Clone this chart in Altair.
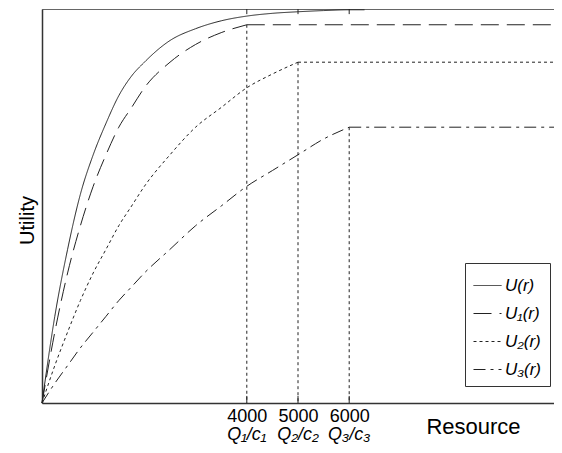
import altair as alt
import pandas as pd

# ---- data ----
series_names = ["U(r)", "U₁(r)", "U₂(r)", "U₃(r)"]

r_u = [0, 250, 500, 750, 1000, 1250, 1500, 1750, 2000, 2500, 3000, 3500, 4000, 4500, 5000, 5500, 6000, 6300]
u = [0, 0.22, 0.39, 0.53, 0.63, 0.71, 0.78, 0.83, 0.865, 0.92, 0.95, 0.97, 0.982, 0.989, 0.993, 0.996, 0.998, 0.998]

r_u1 = [0, 250, 500, 750, 1000, 1250, 1500, 1750, 2000, 2500, 3000, 3500, 4000]
u1 = [0, 0.18, 0.33, 0.45, 0.55, 0.63, 0.70, 0.75, 0.80, 0.865, 0.91, 0.94, 0.96]

r_u2 = [0, 250, 500, 750, 1000, 1250, 1500, 1750, 2000, 2500, 3000, 3500, 4000, 4500, 5000]
u2 = [0, 0.095, 0.18, 0.26, 0.33, 0.39, 0.45, 0.50, 0.55, 0.63, 0.70, 0.75, 0.80, 0.835, 0.865]

r_u3 = [0, 250, 500, 750, 1000, 1250, 1500, 1750, 2000, 2500, 3000, 3500, 4000, 4500, 5000, 5500, 6000]
u3 = [0, 0.05, 0.095, 0.14, 0.18, 0.22, 0.26, 0.295, 0.33, 0.39, 0.45, 0.50, 0.55, 0.59, 0.63, 0.67, 0.70]

plateau_series = ["U₁(r)", "U₂(r)", "U₃(r)"]
plateau_start = [4000, 5000, 6000]
plateau_level = [0.96, 0.865, 0.70]
r_max = 10000

tick_values = [4000, 5000, 6000]
q_labels = ["Q₁/c₁", "Q₂/c₂", "Q₃/c₃"]

# ---- tables ----
rows = []
for name, rs, us in zip(series_names, [r_u, r_u1, r_u2, r_u3], [u, u1, u2, u3]):
    for rv, uv in zip(rs, us):
        rows.append({"series": name, "r": rv, "u": uv})
df_curve = pd.DataFrame(rows)

prow = []
for name, s, lv in zip(plateau_series, plateau_start, plateau_level):
    prow.append({"series": name, "r": s, "u": lv})
    prow.append({"series": name, "r": r_max, "u": lv})
df_plat = pd.DataFrame(prow)

df_vert = pd.DataFrame({"r": plateau_start, "level": plateau_level})
df_q = pd.DataFrame({"r": tick_values, "text": q_labels})

W, H = 512, 394
FONT = "Liberation Sans"

xscale = alt.Scale(domain=[0, r_max], nice=False, zero=False)
yscale = alt.Scale(domain=[0, 1], nice=False)
dash_scale = alt.Scale(domain=series_names, range=[[1, 0], [18, 8], [3, 3], [12, 5, 3, 5]])

x_axis = alt.Axis(values=tick_values, format="d", ticks=False, grid=False, labelFontSize=18,
                  labelFont=FONT, labelColor="black", labelPadding=4, domainColor="#333",
                  domainWidth=1.5, title="Resource", titleFont=FONT, titleFontSize=22,
                  titleFontWeight="normal", titleColor="black", titleX=431, titleY=30,
                  titleAlign="center", titleBaseline="alphabetic", labelFlush=False)
y_axis = alt.Axis(labels=False, ticks=False, grid=False, domainColor="#333", domainWidth=1.5,
                  title="Utility", titleFont=FONT, titleFontSize=20, titleFontWeight="normal",
                  titleColor="black", titleX=-9, titleY=211, titleAlign="center",
                  titleBaseline="alphabetic", titleAngle=-90)

legend = alt.Legend(title=None, orient="none", legendX=423, legendY=254, strokeColor="#333",
                    fillColor="white", padding=8, symbolType="stroke", symbolSize=784,
                    symbolStrokeWidth=1, symbolStrokeColor="#222", labelFont=FONT,
                    labelFontSize=17, labelFontStyle="italic", labelColor="black",
                    rowPadding=5, labelOffset=3, cornerRadius=0)

dash_enc = alt.StrokeDash("series:N", scale=dash_scale, sort=series_names, legend=legend)

curves = alt.Chart(df_curve).mark_line(interpolate="monotone", color="#222", strokeWidth=1).encode(
    x=alt.X("r:Q", scale=xscale, axis=x_axis),
    y=alt.Y("u:Q", scale=yscale, axis=y_axis),
    strokeDash=dash_enc,
    detail="series:N",
)

plateaus = alt.Chart(df_plat).mark_line(color="#222", strokeWidth=1).encode(
    x=alt.X("r:Q", scale=xscale),
    y=alt.Y("u:Q", scale=yscale),
    strokeDash=dash_enc,
    detail="series:N",
)

verticals = alt.Chart(df_vert).mark_rule(color="#222", strokeWidth=1, strokeDash=[3, 3]).encode(
    x=alt.X("r:Q", scale=xscale),
    y=alt.Y("level:Q", scale=yscale),
    y2=alt.datum(0),
)

bottom_ticks = alt.Chart(df_vert).mark_rule(color="#222", strokeWidth=1).encode(
    x=alt.X("r:Q", scale=xscale),
    y=alt.datum(0),
    y2=alt.datum(0.018),
)
top_ticks = alt.Chart(df_vert).mark_rule(color="#222", strokeWidth=1).encode(
    x=alt.X("r:Q", scale=xscale),
    y=alt.datum(1),
    y2=alt.datum(0.987),
)

qtext = alt.Chart(df_q).mark_text(font=FONT, fontSize=18, fontStyle="italic", color="black",
                                  baseline="alphabetic", align="center").encode(
    x=alt.X("r:Q", scale=xscale),
    y=alt.value(H + 37),
    text="text:N",
)

chart = alt.layer(verticals, bottom_ticks, top_ticks, curves, plateaus, qtext).properties(
    width=W, height=H, autosize="none",
    padding={"left": 34, "top": 1, "right": 0, "bottom": 42},
    background="white",
).configure_view(stroke="#666", strokeWidth=1)

chart.save("out.html", embed_options={"renderer": "svg", "actions": False})
